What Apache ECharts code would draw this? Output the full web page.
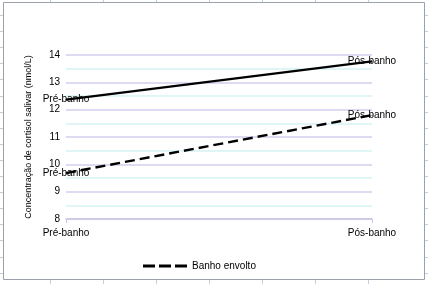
<!DOCTYPE html>
<html>
<head>
<meta charset="utf-8">
<script src="https://cdn.jsdelivr.net/npm/echarts@6/dist/echarts.min.js"></script>
<style>
html,body{margin:0;padding:0;background:#fff;}
#c{width:428px;height:284px;}
</style>
</head>
<body>
<div id="c"></div>
<script>
var categories = ['Pré-banho', 'Pós-banho'];
var seriesNames = ['Banho frio', 'Banho envolto'];
var solidValues = [12.37, 13.77];
var dashedValues = [9.68, 11.8];
var yTicks = [8, 9, 10, 11, 12, 13, 14];
var yTitle = 'Concentração de cortisol salivar (nmol/L)';

var chart = echarts.init(document.getElementById('c'), null, {renderer: 'canvas'});
var FONT = 'Liberation Sans, Arial, sans-serif';

// Excel sheet cell grid decoration around the chart frame
var deco = [];
var colX = [50, 103, 156, 209, 262, 315, 368];
colX.forEach(function (x) {
  deco.push({type: 'line', shape: {x1: x + 0.5, y1: 0, x2: x + 0.5, y2: 2}, style: {stroke: '#c7ccd6', lineWidth: 1}, silent: true});
  deco.push({type: 'line', shape: {x1: x + 0.5, y1: 280, x2: x + 0.5, y2: 284}, style: {stroke: '#c7ccd6', lineWidth: 1}, silent: true});
});
for (var k = 0; k < 17; k++) {
  var ry = Math.round(15 + 16.1 * k) + 0.5;
  deco.push({type: 'line', shape: {x1: 0, y1: ry, x2: 3, y2: ry}, style: {stroke: '#c7ccd6', lineWidth: 1}, silent: true});
  deco.push({type: 'line', shape: {x1: 425, y1: ry, x2: 428, y2: ry}, style: {stroke: '#c7ccd6', lineWidth: 1}, silent: true});
}
deco.push({type: 'rect', shape: {x: 3.5, y: 2.5, width: 421, height: 277}, style: {fill: 'none', stroke: '#9aa1ab', lineWidth: 1}, silent: true});

var labelCfg = {show: true, position: 'inside', formatter: '{b}', fontFamily: FONT, fontSize: 10, color: '#000'};

var option = {
  animation: false,
  backgroundColor: '#fff',
  graphic: deco,
  grid: {left: 66, right: 56, top: 55, bottom: 65, containLabel: false},
  legend: {
    data: [{name: 'Banho envolto', icon: 'path://M0,0H12V3H0Z M16,0H28V3H16Z M32,0H44V3H32Z'}],
    bottom: 8,
    left: 138,
    itemWidth: 44,
    itemHeight: 3,
    itemGap: 6,
    itemStyle: {color: '#000', opacity: 1},
    textStyle: {fontFamily: FONT, fontSize: 10, color: '#000'}
  },
  xAxis: {
    type: 'category',
    data: categories,
    boundaryGap: false,
    axisLine: {show: true, lineStyle: {color: '#c9c6e6', width: 1.5}},
    axisTick: {show: true, length: 4, lineStyle: {color: '#c9c6e6', width: 1}},
    axisLabel: {fontFamily: FONT, fontSize: 10, color: '#000', margin: 9},
    splitLine: {show: false}
  },
  yAxis: {
    type: 'value',
    min: 8,
    max: 14,
    interval: 1,
    name: yTitle,
    nameLocation: 'middle',
    nameRotate: 90,
    nameGap: 33,
    nameTextStyle: {fontFamily: FONT, fontSize: 9, color: '#000'},
    axisLine: {show: false},
    axisTick: {show: false},
    axisLabel: {fontFamily: FONT, fontSize: 10, color: '#000', margin: 6},
    splitLine: {show: true, lineStyle: {color: '#d2cfec', width: 1.5}},
    minorTick: {show: false, splitNumber: 2},
    minorSplitLine: {show: true, lineStyle: {color: '#d6f3f4', width: 1.5}}
  },
  series: [
    {
      name: seriesNames[0],
      type: 'line',
      data: solidValues,
      symbol: 'circle',
      symbolSize: 1,
      showSymbol: true,
      lineStyle: {color: '#000', width: 2.2, type: 'solid'},
      itemStyle: {color: '#000'},
      label: labelCfg
    },
    {
      name: seriesNames[1],
      type: 'line',
      data: dashedValues,
      symbol: 'circle',
      symbolSize: 1,
      showSymbol: true,
      lineStyle: {color: '#000', width: 2.4, type: [10, 5]},
      itemStyle: {color: '#000'},
      label: labelCfg
    }
  ]
};
chart.setOption(option);
</script>
</body>
</html>
